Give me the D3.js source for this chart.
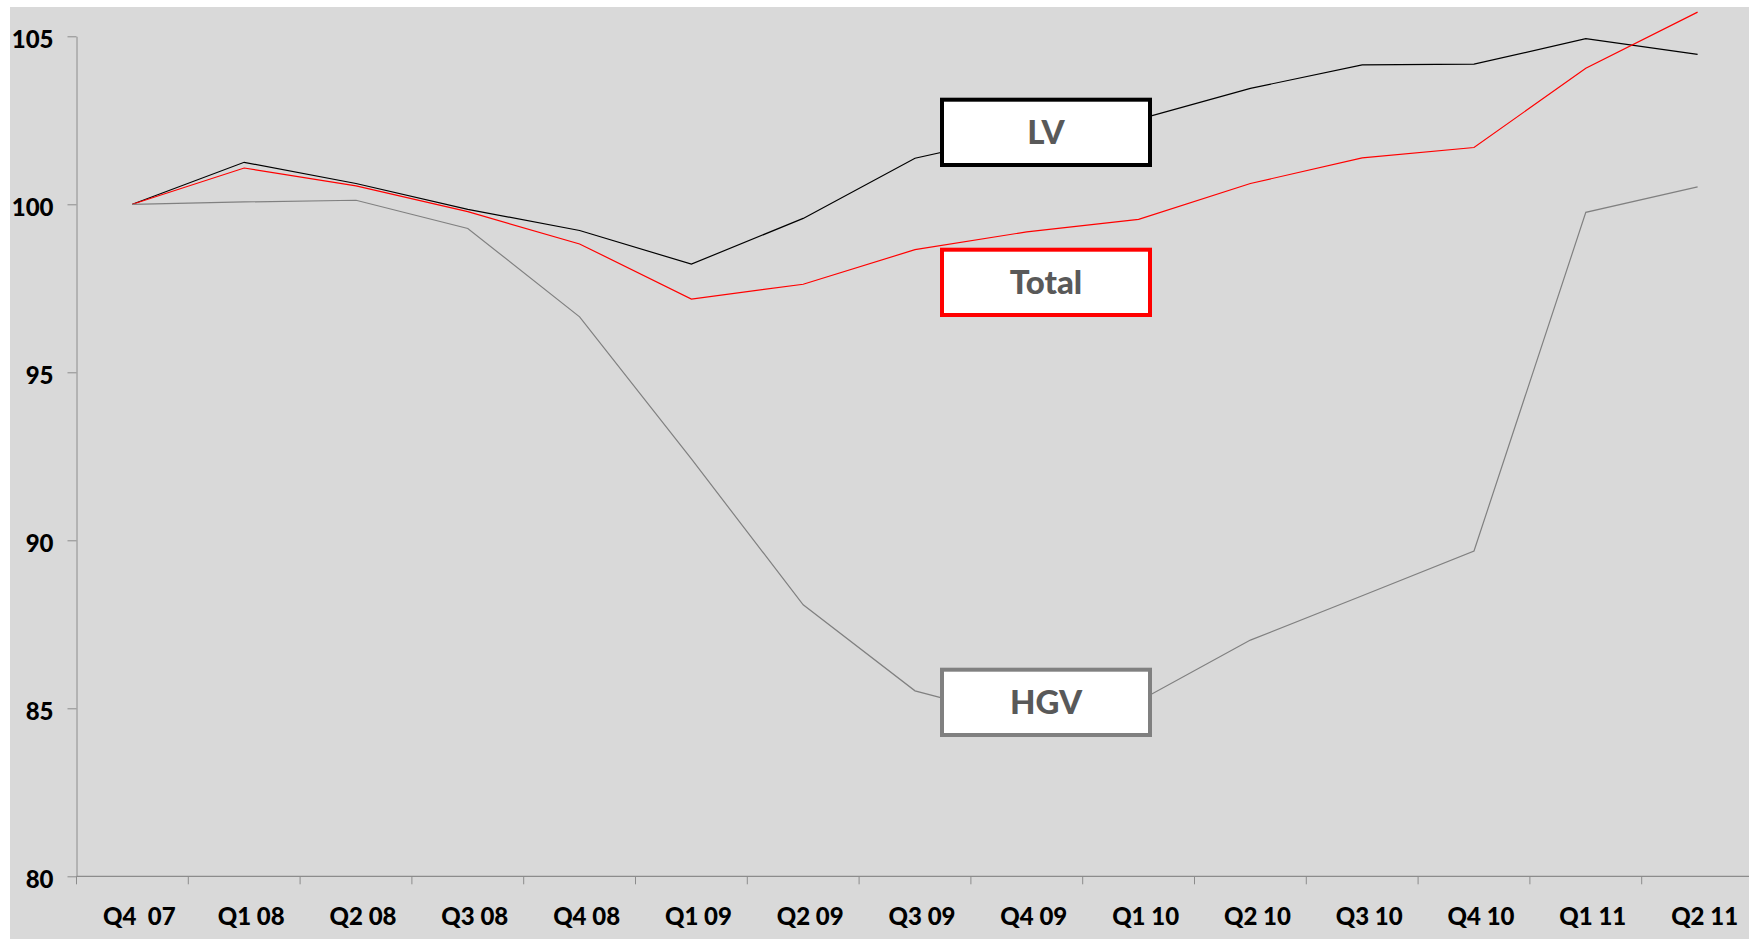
<!DOCTYPE html>
<html>
<head>
<meta charset="utf-8">
<script src="https://cdn.jsdelivr.net/npm/d3@7"></script>
<style>
  html, body { margin: 0; padding: 0; background: #ffffff; }
  svg { display: block; }
  text { font-family: Lato, "Open Sans", sans-serif; font-weight: bold; }
</style>
</head>
<body>
<svg id="chart" width="1749" height="939"></svg>
<script>
// Quarterly index (Q4 2007 = 100)
const categories = ["Q4  07", "Q1 08", "Q2 08", "Q3 08", "Q4 08", "Q1 09", "Q2 09", "Q3 09",
                    "Q4 09", "Q1 10", "Q2 10", "Q3 10", "Q4 10", "Q1 11", "Q2 11"];
const lvValues    = [100, 101.25, 100.62, 99.85, 99.22, 98.22, 99.58, 101.37,
                     102.11, 102.53, 103.45, 104.15, 104.17, 104.93, 104.46];
const totalValues = [100, 101.08, 100.55, 99.78, 98.82, 97.18, 97.62, 98.65,
                     99.18, 99.55, 100.62, 101.38, 101.69, 104.05, 105.72];
const hgvValues   = [100, 100.07, 100.12, 99.28, 96.65, 92.42, 88.08, 85.52,
                     84.65, 85.21, 87.03, 88.35, 89.68, 99.76, 100.52];
const yTicks = [80, 85, 90, 95, 100, 105];

const series = [
  { name: "LV",    values: lvValues,    color: "#000000", box: "#000000", boxY: 99.7 },
  { name: "Total", values: totalValues, color: "#ff0000", box: "#ff0000", boxY: 249.7 },
  { name: "HGV",   values: hgvValues,   color: "#808080", box: "#808080", boxY: 669.7 }
];

const svg = d3.select("#chart");
const W = 1749, H = 939;

// chart area background
svg.append("rect").attr("x", 10).attr("y", 7).attr("width", W - 10).attr("height", H - 7)
  .attr("fill", "#d9d9d9");

const x0 = 76.5, step = 111.8;
const x = d3.scaleBand().domain(categories).range([x0, x0 + step * categories.length]).padding(0);
const y = d3.scaleLinear().domain([80, 105]).range([876.3, 36.3]);
const axisColor = "#8c8c8c";

// y axis
const yAxis = svg.append("g").attr("transform", `translate(${x0},0)`)
  .call(d3.axisLeft(y).tickValues(yTicks).tickSize(9).tickSizeOuter(0).tickPadding(14));
yAxis.select(".domain").attr("stroke", axisColor);
yAxis.selectAll(".tick line").attr("stroke", axisColor);
yAxis.selectAll(".tick text").attr("fill", "#000").style("font-size", "24px")
  .style("font-family", "Lato, sans-serif").style("font-weight", "900").attr("dy", "0.45em");

// x axis: baseline, boundary ticks and centred labels
const xg = svg.append("g");
xg.append("line").attr("x1", x0).attr("x2", W).attr("y1", y(80)).attr("y2", y(80))
  .attr("stroke", axisColor).attr("stroke-width", 1.2);
xg.selectAll("line.tk").data(categories).join("line").attr("class", "tk")
  .attr("x1", d => x(d)).attr("x2", d => x(d))
  .attr("y1", y(80)).attr("y2", y(80) + 8)
  .attr("stroke", axisColor);
xg.selectAll("text").data(categories).join("text")
  .attr("x", d => x(d) + x.bandwidth() / 2 + 7)
  .attr("y", 925)
  .attr("text-anchor", "middle")
  .attr("fill", "#000")
  .style("font-size", "24px")
  .style("font-weight", "900")
  .style("white-space", "pre")
  .attr("xml:space", "preserve")
  .text(d => d);

// series lines
const line = d3.line()
  .x((d, i) => x(categories[i]) + x.bandwidth() / 2)
  .y(d => y(d));

series.forEach(s => {
  svg.append("path").datum(s.values)
    .attr("fill", "none")
    .attr("stroke", s.color)
    .attr("stroke-width", 1.2)
    .attr("d", line);
});

// series name boxes
const boxX = 942, boxW = 208, boxH = 65.3;
series.forEach(s => {
  const g = svg.append("g");
  g.append("rect").attr("x", boxX).attr("y", s.boxY).attr("width", boxW).attr("height", boxH)
    .attr("fill", "#ffffff").attr("stroke", s.box).attr("stroke-width", 4);
  g.append("text").attr("x", boxX + boxW / 2).attr("y", s.boxY + boxH / 2)
    .attr("dy", "0.36em").attr("text-anchor", "middle")
    .attr("fill", "#595959").style("font-size", "33px").style("font-weight", "900")
    .text(s.name);
});
</script>
</body>
</html>
